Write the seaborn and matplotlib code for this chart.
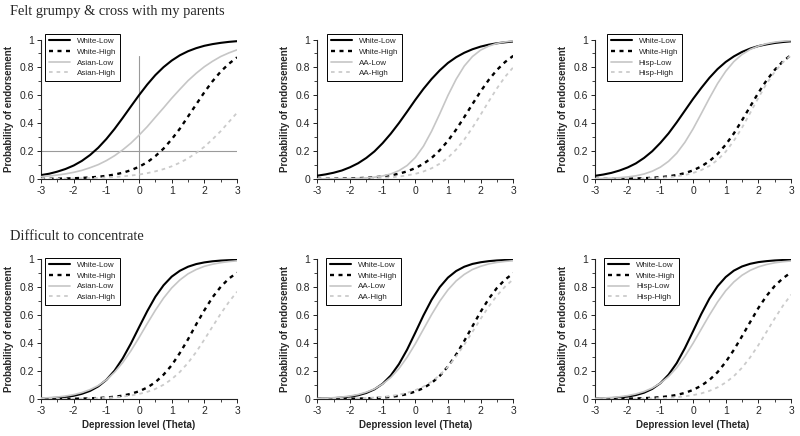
import matplotlib
matplotlib.use("Agg")
import matplotlib.pyplot as plt
import pandas as pd
import seaborn as sns
from matplotlib.ticker import MultipleLocator

# ---------------- data ----------------
THETA = [-3, -2.75, -2.5, -2.25, -2, -1.75, -1.5, -1.25, -1, -0.75, -0.5, -0.25,
         0, 0.25, 0.5, 0.75, 1, 1.25, 1.5, 1.75, 2, 2.25, 2.5, 2.75, 3]

ROW_TITLES = ["Felt grumpy & cross with my parents", "Difficult to concentrate"]
GROUPS = ["Asian", "AA", "Hisp"]
X_TICKS = [-3, -2, -1, 0, 1, 2, 3]
X_TICK_LABELS = ["-3", "-2", "-1", "0", "1", "2", "3"]
Y_TICKS = [0, 0.2, 0.4, 0.6, 0.8, 1]
Y_TICK_LABELS = ["0", "0.2", "0.4", "0.6", "0.8", "1"]
X_LABEL = "Depression level (Theta)"
Y_LABEL = "Probability of endorsement"

# reference lines in the first panel
REF_THETA = 0
REF_PROB = 0.2
REF_TOP = 0.88

# Felt grumpy & cross with my parents
grumpy_asian_white_low = [0.028, 0.038, 0.053, 0.072, 0.097, 0.130, 0.172, 0.224, 0.287, 0.359, 0.438, 0.520, 0.601, 0.677, 0.745, 0.802, 0.849, 0.887, 0.916, 0.938, 0.955, 0.967, 0.976, 0.983, 0.988]
grumpy_asian_white_high = [0.0014, 0.0019, 0.0028, 0.0039, 0.0056, 0.0079, 0.0113, 0.016, 0.0228, 0.032, 0.045, 0.063, 0.088, 0.120, 0.164, 0.218, 0.285, 0.361, 0.448, 0.535, 0.622, 0.701, 0.770, 0.826, 0.872]
grumpy_asian_low = [0.0166, 0.0217, 0.0285, 0.037, 0.048, 0.062, 0.081, 0.103, 0.132, 0.167, 0.209, 0.257, 0.314, 0.375, 0.443, 0.510, 0.579, 0.643, 0.705, 0.758, 0.805, 0.844, 0.878, 0.904, 0.926]
grumpy_asian_high = [0.0012, 0.0016, 0.0021, 0.0028, 0.0037, 0.0049, 0.0064, 0.0084, 0.011, 0.0145, 0.019, 0.025, 0.032, 0.042, 0.055, 0.071, 0.091, 0.117, 0.148, 0.187, 0.231, 0.285, 0.343, 0.409, 0.475]

grumpy_aa_white_low = [0.024, 0.033, 0.045, 0.061, 0.084, 0.113, 0.151, 0.198, 0.257, 0.325, 0.401, 0.483, 0.567, 0.646, 0.717, 0.779, 0.832, 0.873, 0.905, 0.930, 0.949, 0.963, 0.973, 0.980, 0.986]
grumpy_aa_white_high = [0.0009, 0.0014, 0.0020, 0.0029, 0.0042, 0.0061, 0.0088, 0.0127, 0.0185, 0.027, 0.038, 0.055, 0.078, 0.109, 0.151, 0.206, 0.274, 0.354, 0.444, 0.537, 0.628, 0.711, 0.782, 0.839, 0.883]
grumpy_aa_low = [0.0003, 0.0006, 0.0010, 0.0016, 0.0027, 0.0046, 0.0078, 0.013, 0.022, 0.036, 0.060, 0.097, 0.154, 0.235, 0.343, 0.468, 0.599, 0.715, 0.810, 0.878, 0.924, 0.953, 0.972, 0.983, 0.990]
grumpy_aa_high = [0.0004, 0.0005, 0.0008, 0.0012, 0.0017, 0.0026, 0.0038, 0.0055, 0.0081, 0.0119, 0.0175, 0.026, 0.037, 0.054, 0.077, 0.110, 0.153, 0.211, 0.283, 0.368, 0.461, 0.557, 0.650, 0.733, 0.801]

grumpy_hisp_white_low = [0.023, 0.032, 0.044, 0.061, 0.083, 0.112, 0.151, 0.199, 0.259, 0.327, 0.406, 0.490, 0.574, 0.652, 0.725, 0.788, 0.839, 0.879, 0.911, 0.935, 0.953, 0.965, 0.975, 0.982, 0.987]
grumpy_hisp_white_high = [0.0005, 0.0008, 0.0012, 0.0018, 0.0027, 0.0040, 0.0059, 0.0088, 0.0131, 0.0194, 0.0288, 0.042, 0.062, 0.090, 0.128, 0.179, 0.246, 0.327, 0.421, 0.520, 0.618, 0.707, 0.782, 0.843, 0.889]
grumpy_hisp_low = [0.0025, 0.0040, 0.0062, 0.0097, 0.015, 0.023, 0.036, 0.056, 0.085, 0.127, 0.185, 0.263, 0.359, 0.468, 0.579, 0.684, 0.772, 0.842, 0.893, 0.929, 0.953, 0.970, 0.981, 0.988, 0.992]
grumpy_hisp_high = [0.0003, 0.0005, 0.0007, 0.0011, 0.0017, 0.0026, 0.0040, 0.0058, 0.0086, 0.0130, 0.0195, 0.029, 0.043, 0.064, 0.094, 0.136, 0.196, 0.274, 0.368, 0.474, 0.582, 0.683, 0.768, 0.836, 0.887]

# Difficult to concentrate
conc_asian_white_low = [0.0035, 0.0057, 0.0091, 0.0145, 0.023, 0.037, 0.058, 0.090, 0.137, 0.203, 0.291, 0.397, 0.514, 0.629, 0.733, 0.815, 0.877, 0.919, 0.948, 0.967, 0.979, 0.987, 0.992, 0.995, 0.997]
conc_asian_white_high = [0.0004, 0.0005, 0.0008, 0.0013, 0.0019, 0.0030, 0.0046, 0.0070, 0.0106, 0.016, 0.024, 0.037, 0.055, 0.082, 0.120, 0.174, 0.242, 0.330, 0.428, 0.535, 0.636, 0.729, 0.804, 0.863, 0.905]
conc_asian_low = [0.0064, 0.0096, 0.0142, 0.021, 0.031, 0.046, 0.067, 0.096, 0.137, 0.192, 0.261, 0.345, 0.440, 0.540, 0.636, 0.723, 0.796, 0.853, 0.897, 0.928, 0.951, 0.966, 0.977, 0.985, 0.990]
conc_asian_high = [0.0004, 0.0006, 0.0009, 0.0013, 0.0018, 0.0027, 0.0039, 0.0056, 0.0082, 0.0118, 0.0171, 0.025, 0.036, 0.051, 0.072, 0.102, 0.142, 0.194, 0.259, 0.337, 0.426, 0.519, 0.611, 0.695, 0.769]

conc_aa_white_low = [0.0022, 0.0037, 0.0061, 0.0100, 0.0163, 0.0266, 0.0431, 0.0691, 0.109, 0.168, 0.250, 0.354, 0.475, 0.599, 0.711, 0.802, 0.870, 0.917, 0.948, 0.968, 0.980, 0.988, 0.993, 0.996, 0.997]
conc_aa_white_high = [0.0003, 0.0005, 0.0008, 0.0012, 0.0019, 0.0028, 0.0043, 0.0066, 0.0100, 0.0153, 0.023, 0.035, 0.053, 0.078, 0.115, 0.166, 0.233, 0.318, 0.416, 0.521, 0.625, 0.718, 0.796, 0.856, 0.901]
conc_aa_low = [0.0040, 0.0061, 0.0092, 0.0141, 0.0213, 0.032, 0.0486, 0.072, 0.107, 0.154, 0.218, 0.299, 0.395, 0.500, 0.605, 0.701, 0.782, 0.846, 0.893, 0.928, 0.951, 0.968, 0.979, 0.986, 0.991]
conc_aa_high = [0.0007, 0.0011, 0.0016, 0.0023, 0.0033, 0.0048, 0.0070, 0.0102, 0.0148, 0.0213, 0.031, 0.044, 0.063, 0.089, 0.125, 0.171, 0.231, 0.305, 0.389, 0.481, 0.574, 0.663, 0.741, 0.806, 0.858]

conc_hisp_white_low = [0.0023, 0.0038, 0.0063, 0.0104, 0.017, 0.028, 0.045, 0.072, 0.113, 0.174, 0.257, 0.364, 0.485, 0.608, 0.719, 0.808, 0.874, 0.920, 0.950, 0.969, 0.981, 0.988, 0.993, 0.996, 0.997]
conc_hisp_white_high = [0.0005, 0.0007, 0.0011, 0.0017, 0.0026, 0.0038, 0.0058, 0.0087, 0.013, 0.0196, 0.029, 0.0435, 0.065, 0.095, 0.136, 0.192, 0.265, 0.352, 0.450, 0.552, 0.652, 0.739, 0.810, 0.865, 0.907]
conc_hisp_low = [0.0047, 0.0070, 0.0106, 0.0159, 0.0239, 0.036, 0.053, 0.078, 0.113, 0.161, 0.224, 0.305, 0.399, 0.500, 0.601, 0.695, 0.776, 0.839, 0.887, 0.922, 0.947, 0.964, 0.976, 0.984, 0.989]
conc_hisp_high = [0.0003, 0.0004, 0.0006, 0.0009, 0.0013, 0.0019, 0.0028, 0.0041, 0.0060, 0.0088, 0.0129, 0.019, 0.0275, 0.040, 0.058, 0.083, 0.118, 0.164, 0.224, 0.299, 0.386, 0.481, 0.577, 0.668, 0.747]

PANELS = [
    [
        (grumpy_asian_white_low, grumpy_asian_white_high, grumpy_asian_low, grumpy_asian_high),
        (grumpy_aa_white_low, grumpy_aa_white_high, grumpy_aa_low, grumpy_aa_high),
        (grumpy_hisp_white_low, grumpy_hisp_white_high, grumpy_hisp_low, grumpy_hisp_high),
    ],
    [
        (conc_asian_white_low, conc_asian_white_high, conc_asian_low, conc_asian_high),
        (conc_aa_white_low, conc_aa_white_high, conc_aa_low, conc_aa_high),
        (conc_hisp_white_low, conc_hisp_white_high, conc_hisp_low, conc_hisp_high),
    ],
]

# ---------------- styling ----------------
sns.set_theme(style="ticks")
plt.rcParams["font.family"] = ["Liberation Sans", "DejaVu Sans"]
plt.rcParams["axes.unicode_minus"] = False

LINE_STYLES = [
    dict(color="black", linewidth=1.5, linestyle="-"),
    dict(color="black", linewidth=1.7, linestyle=(0, (1.7, 1.9))),
    dict(color="#c6c6c6", linewidth=1.2, linestyle="-"),
    dict(color="#cbcbcb", linewidth=1.3, linestyle=(0, (2.0, 2.2))),
]

fig = plt.figure(figsize=(8, 4.36), dpi=100)
LEFTS = [0.0513, 0.3966, 0.7438]
BOTTOMS = [0.5894, 0.0849]
W, H = 0.245, 0.32
LEG_X = [[0.02, 0.051, 0.061], [0.02, 0.046, 0.046]]
LEG_Y = [1.04, 1.012]

for r in range(2):
    for c in range(3):
        ax = fig.add_axes([LEFTS[c], BOTTOMS[r], W, H])
        labels = ["White-Low", "White-High", f"{GROUPS[c]}-Low", f"{GROUPS[c]}-High"]
        if r == 0 and c == 0:
            ax.axvline(REF_THETA, ymin=0, ymax=REF_TOP, color="#9a9a9a", lw=0.8, zorder=1)
            ax.axhline(REF_PROB, color="#9a9a9a", lw=0.8, zorder=1)
        for vals, lab, st in zip(PANELS[r][c], labels, LINE_STYLES):
            df = pd.DataFrame({"theta": THETA, "prob": vals})
            sns.lineplot(data=df, x="theta", y="prob", ax=ax, label=lab, zorder=3, **st)
        ax.set_xlim(-3, 3)
        ax.set_ylim(0, 1)
        ax.set_xticks(X_TICKS)
        ax.set_xticklabels(X_TICK_LABELS)
        ax.set_yticks(Y_TICKS)
        ax.set_yticklabels(Y_TICK_LABELS)
        ax.xaxis.set_minor_locator(MultipleLocator(0.5))
        ax.yaxis.set_minor_locator(MultipleLocator(0.1))
        ax.tick_params(which="major", length=3, width=0.7, labelsize=7.5, pad=2, color="#222222")
        ax.tick_params(which="minor", length=2, width=0.6, color="#222222")
        sns.despine(ax=ax)
        for s in ("left", "bottom"):
            ax.spines[s].set_linewidth(0.8)
            ax.spines[s].set_color("#222222")
        ax.set_ylabel(Y_LABEL, fontsize=7, fontweight="bold")
        ax.yaxis.set_label_coords(-0.138, 0.5)
        if r == 1:
            ax.set_xlabel(X_LABEL, fontsize=7, fontweight="bold")
            ax.xaxis.set_label_coords(0.5, -0.15)
        else:
            ax.set_xlabel("")
        leg = ax.legend(loc="upper left", bbox_to_anchor=(LEG_X[r][c], LEG_Y[r]),
                        fontsize=5.8, frameon=True, fancybox=False, edgecolor="black",
                        framealpha=1, borderpad=0.45, labelspacing=0.38,
                        handlelength=2.6, handletextpad=0.9, borderaxespad=0)
        leg.get_frame().set_linewidth(0.7)
        leg.set_zorder(5)

fig.text(0.0125, 0.966, ROW_TITLES[0], family=["Liberation Serif", "DejaVu Serif"],
         fontsize=10.4, va="baseline", ha="left")
fig.text(0.0125, 0.4495, ROW_TITLES[1], family=["Liberation Serif", "DejaVu Serif"],
         fontsize=10.4, va="baseline", ha="left")

fig.savefig("out.png", dpi=100)
